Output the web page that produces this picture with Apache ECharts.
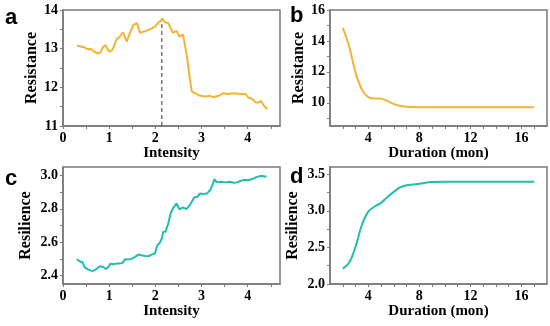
<!DOCTYPE html>
<html><head><meta charset="utf-8">
<script src="https://cdn.jsdelivr.net/npm/echarts@6/dist/echarts.min.js"></script>
<style>html,body{margin:0;padding:0;background:#fff}#c{width:550px;height:326px}</style>
</head><body><div id="c"></div>
<script>
// Panel a: Resistance vs Intensity
const aX = [0.30,0.41,0.47,0.54,0.60,0.65,0.74,0.81,0.87,0.92,1.00,1.07,1.16,1.23,1.30,1.38,1.45,1.52,1.60,1.67,1.78,1.88,1.99,2.07,2.12,2.15,2.21,2.28,2.32,2.38,2.46,2.52,2.60,2.62,2.68,2.74,2.79,2.86,2.97,3.08,3.17,3.26,3.37,3.47,3.55,3.70,3.84,3.95,4.02,4.10,4.17,4.24,4.29,4.33,4.36,4.42];
const aY = [13.08,13.05,13.03,12.98,13.00,12.95,12.88,12.90,13.05,13.09,12.92,12.97,13.24,13.31,13.42,13.18,13.40,13.61,13.66,13.41,13.45,13.50,13.57,13.68,13.72,13.78,13.68,13.66,13.64,13.41,13.46,13.31,13.37,13.22,12.84,12.28,11.89,11.85,11.78,11.76,11.78,11.75,11.78,11.85,11.83,11.85,11.83,11.83,11.73,11.70,11.61,11.61,11.65,11.56,11.55,11.43];
const dashX = [2.14, 2.14];
const dashY = [11, 13.78];
// Panel b: Resistance vs Duration
const bX = [2,2.5,3,3.5,4,4.5,5,5.5,6,6.5,7,7.5,8,9,10,11,12,13,14,15,16,17];
const bY = [14.85,13.65,11.95,10.85,10.37,10.28,10.27,10.12,9.92,9.80,9.75,9.73,9.72,9.71,9.71,9.71,9.71,9.71,9.71,9.71,9.71,9.71];
// Panel c: Resilience vs Intensity
const cX = [0.30,0.36,0.42,0.47,0.54,0.62,0.67,0.72,0.80,0.87,0.93,0.98,1.03,1.09,1.16,1.23,1.30,1.34,1.41,1.49,1.56,1.63,1.70,1.78,1.85,1.92,1.99,2.04,2.10,2.14,2.17,2.22,2.28,2.33,2.38,2.46,2.52,2.60,2.67,2.72,2.79,2.84,2.91,2.97,3.03,3.12,3.19,3.25,3.28,3.33,3.41,3.52,3.62,3.70,3.77,3.84,3.91,4.02,4.10,4.17,4.24,4.31,4.41];
const cY = [2.498,2.486,2.480,2.450,2.438,2.428,2.430,2.440,2.456,2.452,2.440,2.452,2.472,2.468,2.472,2.472,2.478,2.498,2.496,2.502,2.512,2.526,2.522,2.518,2.516,2.526,2.532,2.580,2.598,2.622,2.662,2.662,2.712,2.772,2.802,2.832,2.796,2.808,2.798,2.812,2.842,2.868,2.872,2.892,2.888,2.892,2.912,2.952,2.978,2.958,2.962,2.958,2.962,2.956,2.958,2.966,2.972,2.972,2.978,2.988,2.994,2.996,2.992];
// Panel d: Resilience vs Duration
const dX = [2,2.5,3,3.5,4,4.5,5,5.5,6,6.5,7,7.5,8,9,10,11,12,13,14,15,16,17];
const dY = [2.21,2.29,2.51,2.81,2.99,3.06,3.11,3.19,3.26,3.32,3.35,3.36,3.37,3.395,3.40,3.40,3.40,3.40,3.40,3.40,3.40,3.40];
// Tick values
const intensityLabels = [0,1,2,3,4];
const intensityTicks = [0,0.5,1,1.5,2,2.5,3,3.5,4,4.5];
const durationLabels = [4,8,12,16];
const durationTicks = [2,3,4,5,6,7,8,9,10,11,12,13,14,15,16,17];
const aYLabels = [11,12,13,14];
const aYTicks = [11,11.5,12,12.5,13,13.5,14];
const bYLabels = [10,12,14,16];
const bYTicks = [9,10,11,12,13,14,15,16];
const cYLabels = [2.4,2.6,2.8,3.0];
const cYTicks = [2.4,2.5,2.6,2.7,2.8,2.9,3.0];
const dYLabels = [2.0,2.5,3.0,3.5];
const dYTicks = [2.0,2.25,2.5,2.75,3.0,3.25,3.5];

const ORANGE = '#F5B335';
const TEAL = '#1FBFAE';
const AXC = '#7a7a7a';
const SERIF = "'Liberation Serif','Times New Roman',serif";
const zip = (xs, ys) => xs.map((x, i) => [x, ys[i]]);

function xAx(grid, min, max, labels, ticks, name, fmt) {
  return {
    type: 'value', gridIndex: grid, min: min, max: max,
    name: name, nameLocation: 'middle', nameGap: 20,
    nameTextStyle: {fontFamily: SERIF, fontWeight: 'bold', fontSize: 15, color: '#000'},
    axisLine: {show: true, lineStyle: {color: AXC, width: 1.5}},
    axisTick: {show: true, length: 3, customValues: ticks, lineStyle: {color: AXC, width: 1}},
    axisLabel: {customValues: labels, margin: 5, fontFamily: SERIF, fontWeight: 'bold', fontSize: 14, color: '#000', formatter: fmt},
    splitLine: {show: false}
  };
}
function yAx(grid, min, max, labels, ticks, name, fmt, gap) {
  return {
    type: 'value', gridIndex: grid, min: min, max: max,
    name: name, nameLocation: 'middle', nameGap: gap,
    nameTextStyle: {fontFamily: SERIF, fontWeight: 'bold', fontSize: 16, color: '#000'},
    axisLine: {show: true, lineStyle: {color: AXC, width: 1.5}},
    axisTick: {show: true, length: 3, customValues: ticks, lineStyle: {color: AXC, width: 1}},
    axisLabel: {customValues: labels, margin: 5, fontFamily: SERIF, fontWeight: 'bold', fontSize: 14, color: '#000', formatter: fmt},
    splitLine: {show: false}
  };
}
const f0 = v => String(Math.round(v));
const f1 = v => v.toFixed(1);

const chart = echarts.init(document.getElementById('c'), null, {renderer: 'canvas'});
const gridBase = {show: true, borderColor: AXC, borderWidth: 1.5, containLabel: false};
chart.setOption({
  animation: false,
  backgroundColor: '#fff',
  grid: [
    Object.assign({left: 63, top: 10, width: 217, height: 116}, gridBase),
    Object.assign({left: 330, top: 10, width: 217, height: 116}, gridBase),
    Object.assign({left: 63, top: 167, width: 217, height: 117}, gridBase),
    Object.assign({left: 330, top: 167, width: 217, height: 117}, gridBase)
  ],
  xAxis: [
    xAx(0, 0, 4.7, intensityLabels, intensityTicks, 'Intensity', f0),
    xAx(1, 1, 18, durationLabels, durationTicks, 'Duration (mon)', f0),
    xAx(2, 0, 4.7, intensityLabels, intensityTicks, 'Intensity', f0),
    xAx(3, 1, 18, durationLabels, durationTicks, 'Duration (mon)', f0)
  ],
  yAxis: [
    yAx(0, 11, 14, aYLabels, aYTicks, 'Resistance', f0, 21),
    yAx(1, 8.5, 16, bYLabels, bYTicks, 'Resistance', f0, 23),
    yAx(2, 2.35, 3.05, cYLabels, cYTicks, 'Resilience', f1, 29),
    yAx(3, 2.0, 3.6, dYLabels, dYTicks, 'Resilience', f1, 29)
  ],
  graphic: [
    {type: 'text', left: 5, top: 7, style: {text: 'a', font: "bold 22px 'Liberation Sans',Arial,sans-serif", fill: '#000'}},
    {type: 'text', left: 290, top: 5, style: {text: 'b', font: "bold 22px 'Liberation Sans',Arial,sans-serif", fill: '#000'}},
    {type: 'text', left: 5, top: 168, style: {text: 'c', font: "bold 22px 'Liberation Sans',Arial,sans-serif", fill: '#000'}},
    {type: 'text', left: 290, top: 166, style: {text: 'd', font: "bold 22px 'Liberation Sans',Arial,sans-serif", fill: '#000'}}
  ],
  series: [
    {type: 'line', xAxisIndex: 0, yAxisIndex: 0, data: zip(dashX, dashY), showSymbol: false,
     lineStyle: {color: '#555', width: 1.2, type: [4, 3]}, z: 1},
    {type: 'line', xAxisIndex: 0, yAxisIndex: 0, data: zip(aX, aY), showSymbol: false,
     lineStyle: {color: ORANGE, width: 2}, z: 2},
    {type: 'line', xAxisIndex: 1, yAxisIndex: 1, data: zip(bX, bY), showSymbol: false, smooth: 0.4,
     lineStyle: {color: ORANGE, width: 2}},
    {type: 'line', xAxisIndex: 2, yAxisIndex: 2, data: zip(cX, cY), showSymbol: false,
     lineStyle: {color: TEAL, width: 2}},
    {type: 'line', xAxisIndex: 3, yAxisIndex: 3, data: zip(dX, dY), showSymbol: false, smooth: 0.4,
     lineStyle: {color: TEAL, width: 2}}
  ]
});
</script></body></html>
